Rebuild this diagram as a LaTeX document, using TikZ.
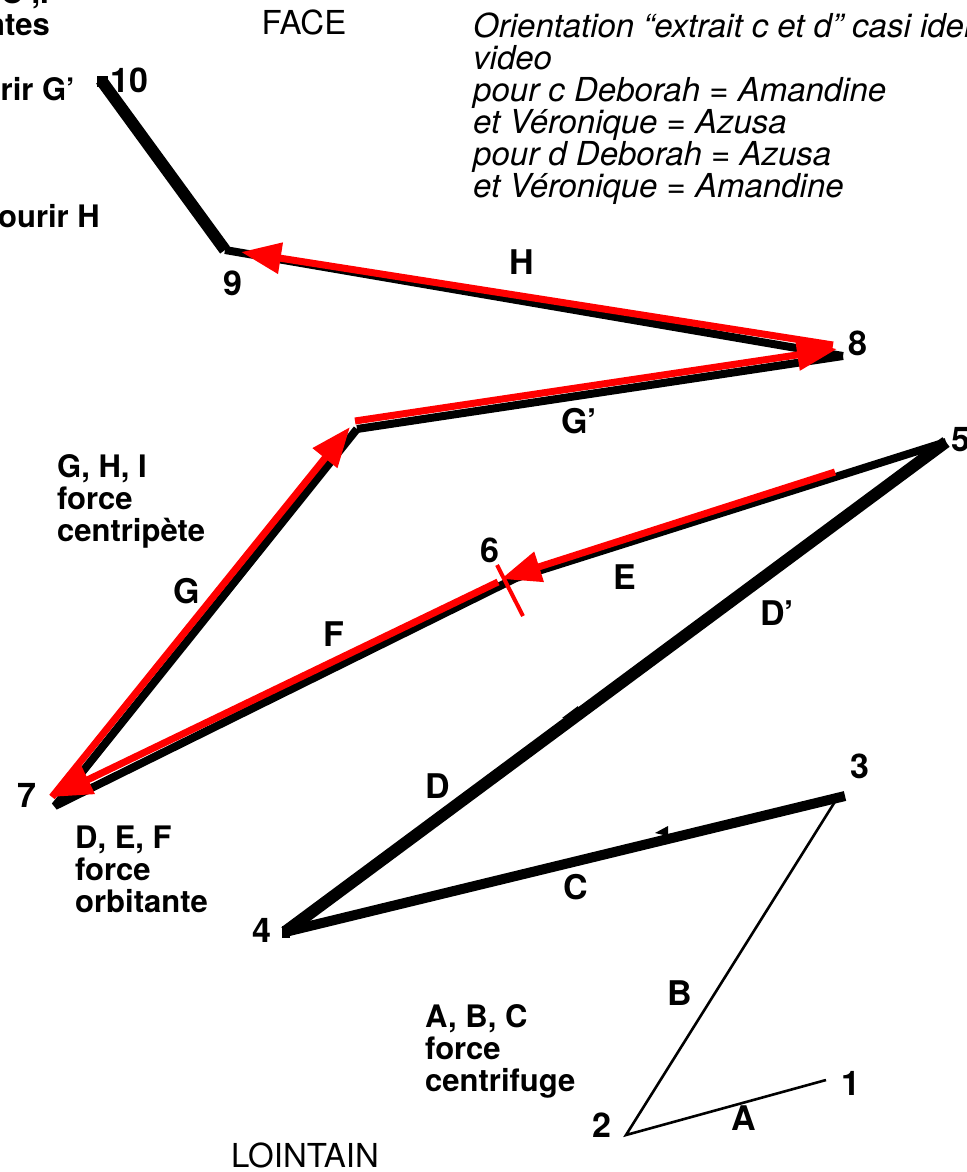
\documentclass[tikz,border=0pt]{standalone}
\usepackage{fontspec}
\setmainfont{TeX Gyre Heros}
\usetikzlibrary{arrows.meta}
\begin{document}
\begin{tikzpicture}[x=1pt,y=-1pt,
  num/.style={font=\bfseries\fontsize{34}{34}\selectfont, inner sep=0pt},
  txt/.style={font=\fontsize{33}{32}\selectfont, inner sep=0pt},
  btxt/.style={font=\bfseries\fontsize{31}{32}\selectfont, inner sep=0pt, align=left, anchor=base west},
  itxt/.style={font=\itshape\fontsize{33}{32}\selectfont, inner sep=0pt, align=left, anchor=base west},
  thin/.style={line width=2.6pt, black},
  blk/.style={line width=#1, black, line join=miter},
  rarrow/.style={red, line width=7pt, -{Triangle[length=40pt,width=30pt]}},
]
\useasboundingbox (0,0) rectangle (966,1172);
% points
\coordinate (p1) at (826,1080);
\coordinate (p2) at (626,1135);
\coordinate (p3) at (836,800);
\coordinate (p3b) at (845,796);
\coordinate (p4) at (285,932);
\coordinate (p5) at (946,442);
\coordinate (p6) at (516,578);
\coordinate (p7) at (55,806);
\coordinate (pg) at (357,429);
\coordinate (p8) at (843,356);
\coordinate (p9) at (225,250);
\coordinate (p10) at (101,80);
% red points
\coordinate (r5) at (835,472);
\coordinate (r6) at (501,579);
\coordinate (r6b) at (498,582);
\coordinate (r7) at (52,797);
\coordinate (rg) at (350,427);
\coordinate (rgb) at (355,421);
\coordinate (r8) at (837,349);
\coordinate (r8b) at (833,345);
\coordinate (r9) at (241,252);
\coordinate (x1) at (497,565);
\coordinate (x2) at (523,616);
% black strokes
\draw[thin] (p1) -- (p2) -- (p3);
\draw[blk=10pt] (p3b) -- (p4);
\draw[blk=12pt] (p4) -- (p5);
\fill (p4) ++(-3,-6) rectangle ++(8,12);
\draw[blk=8pt] (p5) -- (p6);
\draw[blk=8pt, line join=bevel] (p6) -- (p7) -- (pg);
\draw[blk=8pt] (pg) -- (p8);
\draw[blk=8pt] (p8) -- (p9);
\draw[blk=12pt] (p9) -- (p10);
\fill (p10) ++(-4,-4) rectangle ++(11,11);
% small bumps
\fill (655,833) -- (668,826) -- (668,836) -- cycle;
\fill (562,718) -- (578,706) -- (580,716) -- cycle;
% red arrows
\draw[rarrow] (r5) -- (r6);
\draw[rarrow] (r6b) -- (r7);
\draw[rarrow] (r7) -- (rg);
\draw[rarrow] (rgb) -- (r8);
\draw[rarrow] (r8b) -- (r9);
\draw[red, line width=4pt] (x1) -- (x2);
% point labels
\node[num] (n1) at (851,1083) {1};
\node[num] (n2) at (602,1125) {2};
\node[num] (n3) at (860,766) {3};
\node[num] (n4) at (262,930) {4};
\node[num] (n5) at (961,440) {5};
\node[num] (n6) at (490,550) {6};
\node[num] (n7) at (27,795) {7};
\node[num] (n8) at (858,343) {8};
\node[num] (n9) at (233,283) {9};
\node[num] (n10) at (129,80) {10};
% segment labels
\node[num] (lA) at (744,1118) {A};
\node[num] (lB) at (680,993) {B};
\node[num] (lC) at (576,887) {C};
\node[num] (lD) at (438,786) {D};
\node[num] (lDp) at (777,613) {D’};
\node[num] (lE) at (625,577) {E};
\node[num] (lF) at (334,634) {F};
\node[num] (lG) at (187,591) {G};
\node[num] (lGp) at (579,421) {G’};
\node[num] (lH) at (522,262) {H};
% texts
\node[txt] (face) at (304,22) {FACE};
\node[txt] (loin) at (305,1155) {LOINTAIN};
\node[btxt] (t1) at (57,541) {G, H, I\\force\\centripète};
\node[btxt] (t2) at (75,912) {D, E, F\\force\\orbitante};
\node[btxt] (t3) at (425,1091) {A, B, C\\force\\centrifuge};
\node[itxt] (t4) at (473,197) {Orientation “extrait c et d” casi iden\\video\\pour c Deborah = Amandine\\et Véronique = Azusa\\pour d Deborah = Azusa\\et Véronique = Amandine};
% cut-off texts at left
\node[btxt, anchor=base east] (c1) at (49,4) {C ,.};
\node[btxt, anchor=base east] (c2) at (50,36) {ntes};
\node[btxt, anchor=base east] (c3) at (75,100) {rir G’};
\node[btxt, anchor=base east] (c4) at (100,227) {ourir H};
\end{tikzpicture}
\end{document}
